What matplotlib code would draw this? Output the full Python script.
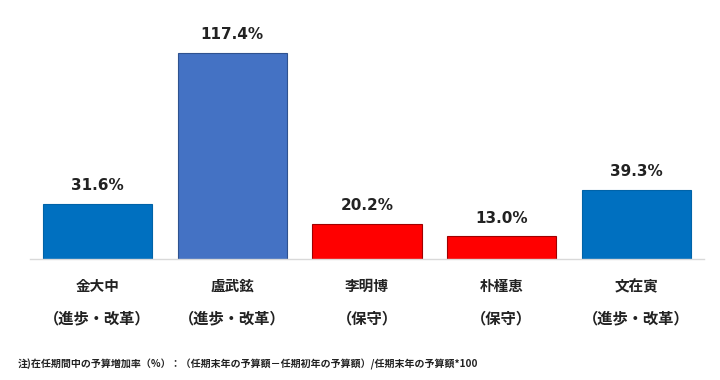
import matplotlib
matplotlib.use("Agg")
import matplotlib.pyplot as plt

plt.rcParams['font.family'] = ['Noto Sans CJK JP', 'DejaVu Sans']

# Data
presidents = ["金大中", "盧武鉉", "李明博", "朴槿恵", "文在寅"]
factions = ["（進歩・改革）", "（進歩・改革）", "（保守）", "（保守）", "（進歩・改革）"]
growth_rates = [31.6, 117.4, 20.2, 13.0, 39.3]

# Styles
bar_colors = ["#0070C0", "#4472C4", "#FF0000", "#FF0000", "#0070C0"]
edge_colors = ["#0063A8", "#2F528F", "#A00000", "#A00000", "#0063A8"]
note = "注)在任期間中の予算増加率（%）：（任期末年の予算額－任期初年の予算額）/任期末年の予算額*100"

fig = plt.figure(figsize=(7.2, 3.8), dpi=100)
ax = fig.add_axes([0.0417, 0.3184, 0.936, 0.629])

x = list(range(len(presidents)))
ax.bar(x, growth_rates, width=0.81, color=bar_colors, edgecolor=edge_colors, linewidth=0.8)

# Value labels above bars
for xi, v in zip(x, growth_rates):
    ax.annotate(f"{v:.1f}%", (xi, v), xytext=(0, 13), textcoords="offset points",
                ha="center", va="center", fontsize=11, fontweight="bold",
                family="DejaVu Sans", color="#222222")

# Category labels (two lines)
trans = ax.get_xaxis_transform()
for xi, name, fac in zip(x, presidents, factions):
    ax.text(xi, -0.113, name, transform=trans, ha="center", va="center",
            fontsize=10.5, fontweight="bold", color="#222222")
    ax.text(xi, -0.247, fac, transform=trans, ha="center", va="center",
            fontsize=11, fontweight="bold", color="#222222")

ax.set_xlim(-0.5, 4.5)
ax.set_ylim(0, 136.2)
ax.set_xticks([])
ax.set_yticks([])
for side in ["top", "right", "left"]:
    ax.spines[side].set_visible(False)
ax.spines["bottom"].set_color("#D9D9D9")
ax.spines["bottom"].set_linewidth(1.0)

fig.text(0.025, 0.04, note, ha="left", va="center", fontsize=7.2, fontweight="bold", color="#222222")

fig.savefig("out.png", dpi=100, facecolor="white")
